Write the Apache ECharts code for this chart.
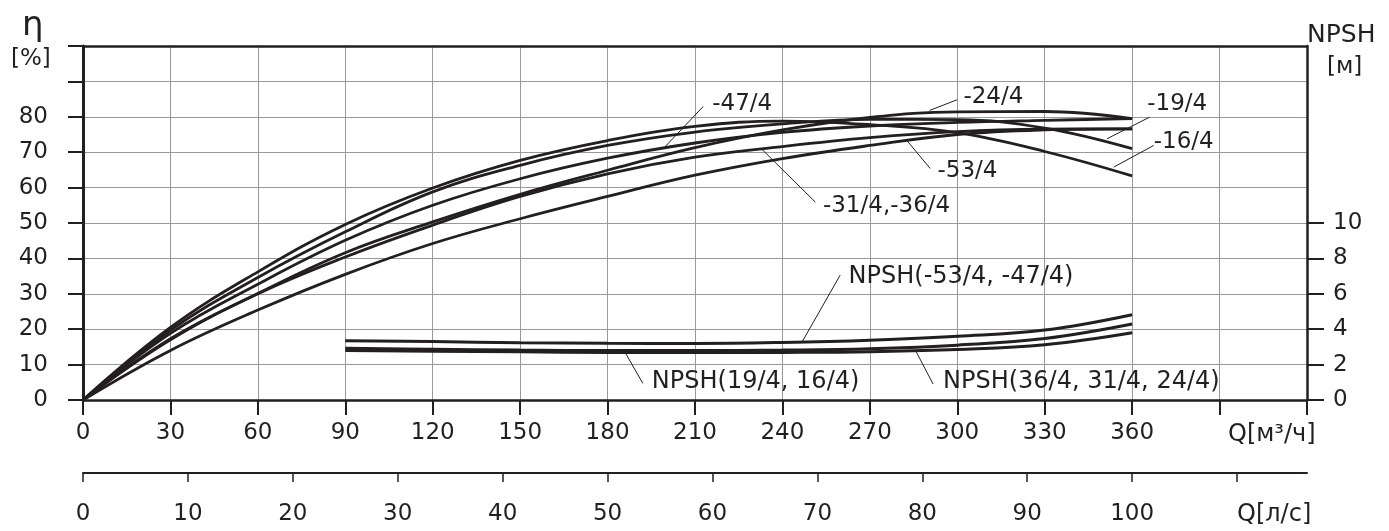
<!DOCTYPE html>
<html><head><meta charset="utf-8">
<script src="https://cdn.jsdelivr.net/npm/echarts@6/dist/echarts.min.js"></script>
<style>html,body{margin:0;padding:0;background:#fff}#c{width:1389px;height:531px}</style>
</head><body><div id="c"></div>
<script>
// ---- data ----
const qEta = [0, 30, 60, 90, 120, 150, 180, 210, 240, 270, 300, 330, 360];
const eta16 = [0, 20.5, 36.2, 49.6, 59.9, 67.7, 73.3, 77.3, 78.8, 77.8, 75.5, 70.2, 63.3];
const eta19 = [0, 19.7, 34.6, 47.5, 58.8, 66.3, 71.9, 75.7, 78.0, 79.3, 79.2, 76.8, 71.0];
const eta47 = [0, 18.8, 32.7, 45.1, 55.0, 62.5, 68.3, 72.6, 75.6, 77.4, 78.4, 79.0, 79.5];
const eta24 = [0, 17.3, 30.1, 41.6, 50.3, 58.1, 64.9, 71.3, 76.3, 79.8, 81.4, 81.5, 79.5];
const eta31_36 = [0, 17.0, 30.0, 40.4, 49.4, 57.5, 63.9, 68.6, 71.6, 74.1, 75.8, 76.5, 76.6];
const eta53 = [0, 14.0, 25.4, 35.5, 44.2, 51.2, 57.5, 63.5, 68.2, 71.9, 75.0, 76.3, 76.6];

const qNpsh = [90, 120, 150, 180, 210, 240, 270, 300, 330, 360];
const npsh53_47 = [3.35, 3.30, 3.24, 3.20, 3.19, 3.25, 3.38, 3.60, 3.95, 4.82];
const npsh36_31_24 = [2.92, 2.87, 2.82, 2.79, 2.79, 2.82, 2.90, 3.10, 3.47, 4.29];
const npsh19_16 = [2.80, 2.76, 2.72, 2.69, 2.68, 2.69, 2.73, 2.85, 3.12, 3.80];

const qTickLabels = [0, 30, 60, 90, 120, 150, 180, 210, 240, 270, 300, 330, 360];
const qTicks = [0, 30, 60, 90, 120, 150, 180, 210, 240, 270, 300, 330, 360, 390, 420];
const lsTickLabels = [0, 10, 20, 30, 40, 50, 60, 70, 80, 90, 100];
const lsTicks = [0, 10, 20, 30, 40, 50, 60, 70, 80, 90, 100, 110];
const etaTickLabels = [0, 10, 20, 30, 40, 50, 60, 70, 80];
const etaTicks = [0, 10, 20, 30, 40, 50, 60, 70, 80, 90, 100];
const npshTicks = [0, 2, 4, 6, 8, 10];

// annotation texts and their anchor / leader-end / text points (data units)
const etaNotes = [
  { text: '-47/4', anchor: [199.1, 71.0], end: [212.8, 82.9], at: [215.9, 83.7] },
  { text: '-24/4', anchor: [290.5, 81.8], end: [299.9, 84.8], at: [302.1, 85.6] },
  { text: '-19/4', anchor: [351.4, 73.8], end: [366.0, 79.9], at: [365.2, 83.5] },
  { text: '-16/4', anchor: [353.7, 65.8], end: [367.4, 71.9], at: [367.4, 72.8] },
  { text: '-53/4', anchor: [282.7, 73.3], end: [290.7, 65.4], at: [293.2, 64.6] },
  { text: '-31/4,-36/4', anchor: [233.0, 70.8], end: [251.3, 55.9], at: [253.9, 54.7] }
];
const npshNotes = [
  { text: 'NPSH(-53/4, -47/4)', anchor: [246.7, 3.27], end: [259.8, 7.05], at: [262.7, 6.96] },
  { text: 'NPSH(19/4, 16/4)', anchor: [186.0, 2.69], end: [192.1, 0.94], at: [195.2, 1.02] },
  { text: 'NPSH(36/4, 31/4, 24/4)', anchor: [285.6, 2.82], end: [291.7, 0.90], at: [295.1, 1.02] }
];

// ---- chart ----
const INK = '#231f20';
const FONT = '"DejaVu Sans", "Liberation Sans", sans-serif';
const zip = (xs, ys) => xs.map((x, i) => [x, ys[i]]);

const etaCurves = [eta16, eta19, eta47, eta24, eta31_36, eta53];
const npshCurves = [npsh53_47, npsh36_31_24, npsh19_16];

const series = [];
etaCurves.forEach(arr => series.push({
  type: 'line', xAxisIndex: 0, yAxisIndex: 0, data: zip(qEta, arr),
  smooth: 0.4, symbol: 'none', silent: true,
  lineStyle: { color: INK, width: 2.8 }, z: 5
}));
npshCurves.forEach(arr => series.push({
  type: 'line', xAxisIndex: 0, yAxisIndex: 1, data: zip(qNpsh, arr),
  smooth: 0.4, symbol: 'none', silent: true,
  lineStyle: { color: INK, width: 3 }, z: 5
}));
function addNotes(notes, yIdx, fontSize) {
  notes.forEach(n => series.push({
    type: 'line', xAxisIndex: 0, yAxisIndex: yIdx, data: [n.anchor, n.end],
    symbol: 'none', silent: true, lineStyle: { color: INK, width: 1 }, z: 4
  }));
  series.push({
    type: 'scatter', xAxisIndex: 0, yAxisIndex: yIdx, symbolSize: 0, silent: true,
    itemStyle: { opacity: 1, color: INK },
    data: notes.map(n => ({ value: n.at, name: n.text })),
    label: {
      show: true, position: [0, 0], align: 'left', verticalAlign: 'middle', opacity: 1,
      formatter: p => p.name, color: INK, fontFamily: FONT, fontSize: fontSize
    }, z: 6
  });
}
addNotes(etaNotes, 0, 23);
addNotes(npshNotes, 1, 24);

const axisLabelStyle = { color: INK, fontFamily: FONT, fontSize: 23 };

const option = {
  animation: false,
  backgroundColor: '#fff',
  grid: { left: 83, right: 82, top: 46, bottom: 131, outerBoundsMode: 'none', containLabel: false },
  xAxis: [
    {
      type: 'value', position: 'bottom', min: 0, max: 420, interval: 30,
      axisLine: { show: true, onZero: false, lineStyle: { color: INK, width: 2.5 } },
      axisTick: { show: true, inside: false, length: 15, customValues: qTicks, lineStyle: { color: INK, width: 2 } },
      axisLabel: { show: true, customValues: qTickLabels, margin: 22, ...axisLabelStyle },
      splitLine: { show: true, lineStyle: { color: '#999', width: 1 } }
    },
    {
      type: 'value', position: 'bottom', offset: 73, min: 0, max: 420 / 3.6, interval: 10,
      axisLine: { show: true, onZero: false, lineStyle: { color: INK, width: 2 } },
      axisTick: { show: true, inside: false, length: 9, customValues: lsTicks, lineStyle: { color: INK, width: 1.5 } },
      axisLabel: { show: true, customValues: lsTickLabels, margin: 30, ...axisLabelStyle },
      splitLine: { show: false }
    },
    {
      type: 'value', position: 'top', min: 0, max: 420,
      axisLine: { show: true, onZero: false, lineStyle: { color: INK, width: 2.5 } },
      axisTick: { show: false }, axisLabel: { show: false }, splitLine: { show: false }
    }
  ],
  yAxis: [
    {
      type: 'value', position: 'left', min: 0, max: 100, interval: 10,
      axisLine: { show: true, onZero: false, lineStyle: { color: INK, width: 3 } },
      axisTick: { show: true, inside: false, length: 15, customValues: etaTicks, lineStyle: { color: INK, width: 2 } },
      axisLabel: { show: true, customValues: etaTickLabels, margin: 35, ...axisLabelStyle },
      splitLine: { show: true, lineStyle: { color: '#999', width: 1 } }
    },
    {
      type: 'value', position: 'right', min: 0, max: 20, interval: 2,
      axisLine: { show: true, onZero: false, lineStyle: { color: INK, width: 2.5 } },
      axisTick: { show: true, inside: false, length: 17, customValues: npshTicks, lineStyle: { color: INK, width: 2 } },
      axisLabel: { show: true, customValues: npshTicks, margin: 26, ...axisLabelStyle },
      splitLine: { show: false }
    }
  ],
  graphic: [
    { type: 'text', left: 22, top: 9, style: { text: 'η', fill: INK, font: '34px ' + FONT } },
    { type: 'text', left: 11, top: 48, style: { text: '[%]', fill: INK, font: '23px ' + FONT } },
    { type: 'text', left: 1307, top: 23, style: { text: 'NPSH', fill: INK, font: '25px ' + FONT } },
    { type: 'text', left: 1327, top: 56, style: { text: '[м]', fill: INK, font: '23px ' + FONT } },
    { type: 'text', left: 1228, top: 423, style: { text: 'Q[м³/ч]', fill: INK, font: '24px ' + FONT } },
    { type: 'text', left: 1237, top: 503, style: { text: 'Q[л/с]', fill: INK, font: '24px ' + FONT } }
  ],
  series: series
};
const chart = echarts.init(document.getElementById('c'), null, { renderer: 'canvas' });
chart.setOption(option);
</script></body></html>
